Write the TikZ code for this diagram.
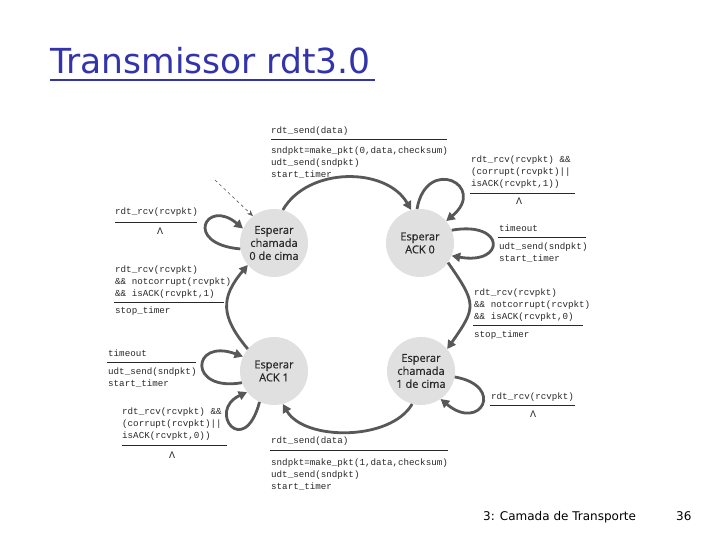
\documentclass[tikz,border=0pt]{standalone}
\usepackage{fontspec}
\usetikzlibrary{arrows.meta}
\newfontfamily\monof{Liberation Mono}
\newfontfamily\statef{Open Sans}[FakeBold=0.5]
\newfontfamily\titlef{DejaVu Sans}
\definecolor{arrowgray}{RGB}{88,88,88}
\definecolor{circfill}{RGB}{224,224,224}
\definecolor{titleblue}{RGB}{51,51,170}
\definecolor{txt}{RGB}{40,40,40}
\tikzset{
  state/.style={circle, fill=circfill, minimum size=68pt, inner sep=0pt, align=center,
    font=\statef\fontsize{11}{13}\selectfont, text=txt},
  trans/.style={draw=arrowgray, line width=2.8pt, -{Triangle[length=8.5pt,width=9pt]}},
  lbl/.style={anchor=base west, inner sep=0pt, font=\monof\fontsize{9.2}{11}\selectfont, text=txt},
  lam/.style={anchor=base, inner sep=0pt, font=\monof\fontsize{10}{11}\selectfont, text=txt},
  rulel/.style={draw=txt, line width=0.7pt},
}
\begin{document}
\begin{tikzpicture}[x=1pt,y=1pt]
\useasboundingbox (0,0) rectangle (720,540);
% title
\node[anchor=base west, inner sep=0pt, font=\titlef\fontsize{34.5}{34.5}\selectfont, text=titleblue] (title) at (50,466) {Transmissor rdt3.0};
\draw[titleblue, line width=2pt] (50,460) -- (375,460);
% footer
\node[anchor=base west, inner sep=0pt, font=\titlef\fontsize{12}{12}\selectfont] (foot) at (483,19.5) {3: Camada de Transporte};
\node[anchor=base west, inner sep=0pt, font=\titlef\fontsize{12}{12}\selectfont] (page) at (676,19.5) {36};
% states
\node[state] (s0) at (274,297) {Esperar\\chamada\\0 de cima};
\node[state] (s1) at (420,297) {Esperar\\ACK 0};
\node[state] (s2) at (274,169) {Esperar\\ACK 1};
\node[state] (s3) at (421,169) {Esperar\\chamada\\1 de cima};
% transitions
\draw[trans] (s0.75) to[out=60,in=120] (s1.105);
\draw[trans] (s1.95) .. controls +(80:55) and +(40:55) .. (s1.40);
\draw[trans] (s1.22) .. controls +(10:55) and +(-10:55) .. (s1.-22);
\draw[trans] (s1.-35) to[out=-55,in=55,looseness=1.5] (s3.40);
\draw[trans] (s3.-10) .. controls +(-10:52) and +(-40:52) .. (s3.-55);
\draw[trans] (s3.-105) to[out=-120,in=-60,looseness=0.85] (s2.-75);
\draw[trans] (s2.200) .. controls +(190:55) and +(160:55) .. (s2.155);
\draw[trans] (s2.245) .. controls +(255:60) and +(205:45) .. (s2.218);
\draw[trans] (s2.140) to[out=130,in=-130,looseness=1.3] (s0.220);
\draw[trans] (s0.190) .. controls +(175:58) and +(140:48) .. (s0.155);
\coordinate (init) at (215,360);
\draw[dashed, line width=0.6pt, draw=arrowgray, -{Stealth[length=6pt,width=5pt]}] (init) -- (s0.128);
% A
\node[lbl] (a1) at (271,406) {rdt\_send(data)};
\draw[rulel] (271,401) -- (447,401);
\node[lbl] (a2) at (271,386) {sndpkt=make\_pkt(0,data,checksum)};
\node[lbl] (a3) at (271,374) {udt\_send(sndpkt)};
\node[lbl] (a4) at (271,362) {start\_timer};
% B
\node[lbl] (b1) at (471,377) {rdt\_rcv(rcvpkt) \&\&};
\node[lbl] (b2) at (471,365) {(corrupt(rcvpkt)||};
\node[lbl] (b3) at (471,353) {isACK(rcvpkt,1))};
\draw[rulel] (470,347) -- (575,347);
\node[lam] (b4) at (519,335) {Λ};
% C
\node[lbl] (c1) at (499,308) {timeout};
\draw[rulel] (498,303) -- (586,303);
\node[lbl] (c2) at (499,290) {udt\_send(sndpkt)};
\node[lbl] (c3) at (499,278) {start\_timer};
% D
\node[lbl] (d1) at (474,244) {rdt\_rcv(rcvpkt)};
\node[lbl] (d2) at (474,232) {\&\& notcorrupt(rcvpkt)};
\node[lbl] (d3) at (474,220) {\&\& isACK(rcvpkt,0)};
\draw[rulel] (473,215) -- (583,215);
\node[lbl] (d4) at (474,202) {stop\_timer};
% E
\node[lbl] (e1) at (491,140) {rdt\_rcv(rcvpkt)};
\draw[rulel] (490,135) -- (575,135);
\node[lam] (e2) at (533,122.7) {Λ};
% F
\node[lbl] (f1) at (271,96) {rdt\_send(data)};
\draw[rulel] (270,90) -- (448,90);
\node[lbl] (f2) at (271,74) {sndpkt=make\_pkt(1,data,checksum)};
\node[lbl] (f3) at (271,62) {udt\_send(sndpkt)};
\node[lbl] (f4) at (271,50) {start\_timer};
% G
\node[lbl] (g1) at (108,183) {timeout};
\draw[rulel] (107,178) -- (196,178);
\node[lbl] (g2) at (108,165) {udt\_send(sndpkt)};
\node[lbl] (g3) at (108,153) {start\_timer};
% H
\node[lbl] (h1) at (122,125) {rdt\_rcv(rcvpkt) \&\&};
\node[lbl] (h2) at (122,113) {(corrupt(rcvpkt)||};
\node[lbl] (h3) at (122,101) {isACK(rcvpkt,0))};
\draw[rulel] (122,95) -- (227,95);
\node[lam] (h4) at (172,81.7) {Λ};
% I
\node[lbl] (i1) at (115,267) {rdt\_rcv(rcvpkt)};
\node[lbl] (i2) at (115,255) {\&\& notcorrupt(rcvpkt)};
\node[lbl] (i3) at (115,243) {\&\& isACK(rcvpkt,1)};
\draw[rulel] (114,238) -- (224,238);
\node[lbl] (i4) at (115,226) {stop\_timer};
% J
\node[lbl] (j1) at (115,325) {rdt\_rcv(rcvpkt)};
\draw[rulel] (115,318) -- (197,318);
\node[lam] (j2) at (160,305.7) {Λ};
\end{tikzpicture}
\end{document}
